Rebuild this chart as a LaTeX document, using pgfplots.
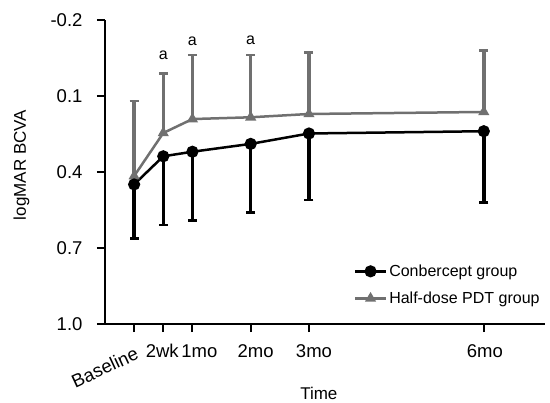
\documentclass[border=0pt]{standalone}
\usepackage{fontspec}
\setmainfont{Liberation Sans}
\usepackage{pgfplots}
\pgfplotsset{compat=1.18}
\usetikzlibrary{calc}
\definecolor{pdtgray}{HTML}{707070}
\pgfplotstableread{
x y e
0 0.449 0.213
2 0.338 0.271
4 0.320 0.271
8 0.289 0.271
12 0.248 0.263
24 0.239 0.282
}\conb
\pgfplotstableread{
x y e
0 0.416 0.297
2 0.246 0.236
4 0.191 0.253
8 0.184 0.246
12 0.171 0.242
24 0.163 0.242
}\pdt
\begin{document}
\begin{tikzpicture}
\begin{axis}[
  scale only axis, width=440pt, height=304pt,
  xmin=-2, xmax=28.2, ymin=-0.2, ymax=1.0, y dir=reverse,
  axis lines*=left,
  axis line style={line width=2.5pt, black},
  clip=false,
  /pgf/number format/assume math mode=true,
  ytick={-0.2,0.1,0.4,0.7,1.0},
  yticklabels={-0.2,0.1,0.4,0.7,1.0},
  xtick={0,2,4,8,12,24},
  xticklabels={{},\hspace*{-2pt}2wk,\hspace*{14pt}1mo,\hspace*{10pt}2mo,\hspace*{10pt}3mo,\hspace*{2pt}6mo},
  tick align=outside, major tick length=8pt,
  tick style={line width=2pt, black},
  ticklabel style={font=\fontsize{18.5}{20}\selectfont},
  yticklabel style={xshift=-11pt},
  xticklabel style={yshift=-9pt},
  xlabel={Time}, ylabel={logMAR BCVA},
  label style={font=\fontsize{17}{20}\selectfont},
  xlabel style={at={(axis description cs:0.486,-0.227)}, anchor=center},
  ylabel style={at={(axis description cs:-0.19,0.523)}, anchor=center},
  legend style={draw=none, fill=none, at={(0.565,0.202)}, anchor=north west,
    font=\fontsize{16}{18}\selectfont, row sep=10pt, inner sep=0pt,
    cells={anchor=west}},
  legend cell align=left,
  legend image code/.code={\draw[mark repeat=2,mark phase=2,#1] plot coordinates {(0pt,0pt) (15.5pt,0pt) (31pt,0pt)};},
]
\addplot[forget plot, pdtgray, line width=2.5pt, mark=triangle*, mark size=4pt,
  error bars/.cd, y dir=minus, y explicit,
  error bar style={/tikz/line width=3.4pt, pdtgray},
  error mark=-,
  error mark options={rotate=90, line width=2.6pt, mark size=4.5pt, pdtgray}]
  table[x=x, y=y, y error=e] {\pdt};
\addplot[black, line width=2.5pt, mark=*, mark size=4.8pt,
  error bars/.cd, y dir=plus, y explicit,
  error bar style={/tikz/line width=3.4pt, black},
  error mark=-,
  error mark options={rotate=90, line width=2.6pt, mark size=4.5pt, black}]
  table[x=x, y=y, y error=e] {\conb};
\addlegendentry{Conbercept group}
\addlegendimage{pdtgray, line width=2.5pt, mark=triangle*, mark size=4pt}
\addlegendentry{Half-dose PDT group}
\node[font=\fontsize{16}{18}\selectfont] at (axis cs:2,-0.06) {a};
\node[font=\fontsize{16}{18}\selectfont] at (axis cs:4,-0.115) {a};
\node[font=\fontsize{16}{18}\selectfont] at (axis cs:8,-0.12) {a};
\node[font=\fontsize{18.5}{20}\selectfont, rotate=25, anchor=north east, inner sep=0pt] at ($(axis cs:0,1.0)+(0pt,-22pt)$) {Baseline};
\path (axis cs:-2,1.0) ++(-105pt,-78pt) rectangle ++(550pt,402pt);
\end{axis}
\end{tikzpicture}
\end{document}
